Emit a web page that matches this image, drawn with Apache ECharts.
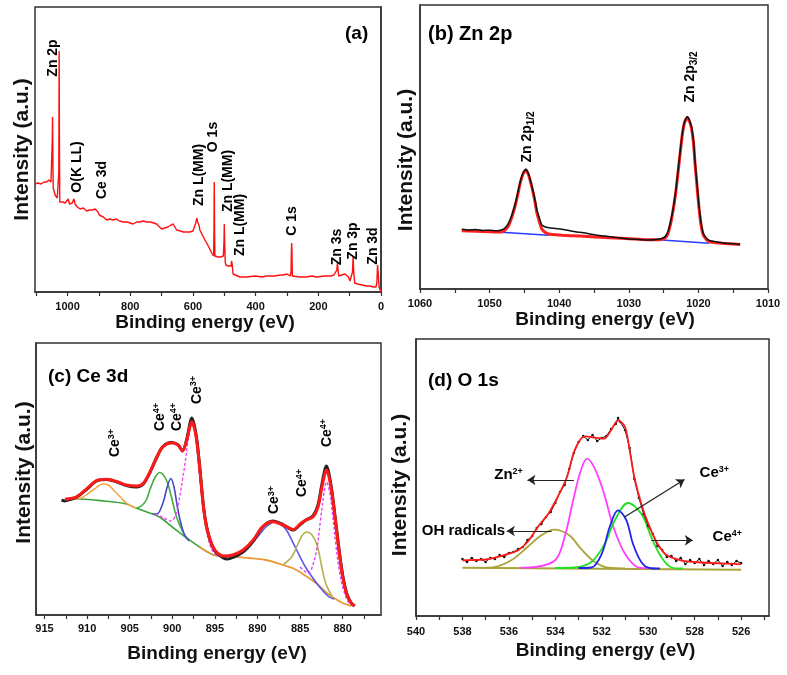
<!DOCTYPE html>
<html>
<head>
<meta charset="utf-8">
<script src="https://cdn.jsdelivr.net/npm/echarts@6/dist/echarts.min.js"></script>
<style>
html,body{margin:0;padding:0;background:#fff;}
#chart{width:787px;height:675px;}
</style>
</head>
<body>
<div id="chart"></div>
<script>
// ---------------- Panel (a): survey spectrum ----------------
const surveyData = [
[1104,108],[1095,109],[1085,108],[1075,110],[1067,110],[1060,112],[1056,113],[1053,110],[1050,108],[1049,150],[1048,175],[1047,140],[1046,104],
[1043,101],[1040,97],[1037,95],[1033,94],[1030,92],[1028,120],[1027,241],[1026,150],[1025,90],[1022,88],[1015,90],[1008,89],[1003,91],[998,93],
[994,88],[990,87],[985,89],[980,93],[976,88],[969,85],[960,83],[950,84],[939,81],[930,82],[920,82],[912,83],[907,84],[903,80],[899,77],[893,76],
[886,75],[880,73],[875,72],[865,73],[855,72],[844,73],[835,71],[822,70],[810,70],[800,69],[791,68],[780,70],[770,70],[760,71],[748,70],[735,70],
[725,69],[716,68],[710,66],[700,63],[690,64],[680,65],[670,67],[663,68],[657,66],[652,62],[640,61],[630,60],[620,60],[610,60],[600,61],[594,62],
[590,70],[588,74],[585,70],[583,69],[580,66],[578,62],[570,57],[562,52],[556,49],[548,44],[540,39],[536,37],[534,36],[533,60],[532,110],[531,60],
[530,36],[528,35],[520,35],[512,35],[508,35],[503,36],[501,50],[500,68],[499,50],[497,30],[495,27],[488,26],[482,25],[478,26],[477,31],[476,33],
[475,28],[472,18],[466,16],[450,15],[430,15],[400,16],[380,15],[365,16],[340,16],[320,17],[312,17],[300,18],[296,19],[290,16],[287,20],[286,40],
[285,49],[284,40],[283,16],[280,15],[260,15],[240,15],[220,16],[205,15],[180,16],[160,16],[150,17],[144,17],[141,22],[139,29],[137,22],[135,16],
[125,17],[115,18],[109,18],[104,15],[99,11],[95,10],[91,20],[89,35],[87,20],[84,9],[75,8],[60,7],[46,6],[35,6],[25,5],[16,5],[13,10],[11,27],
[10,29],[8,15],[6,5],[3,3],[0,0]
];
const surveyTicks = [0,100,200,300,400,500,600,700,800,900,1000,1100];
const surveyTickLabels = [0,200,400,600,800,1000];
const surveyPeakLabels = [
[1047,234,'Zn 2p'],[970,125,'O(K LL)'],[890.5,112,'Ce 3d'],[581,117,'Zn L(MM)'],[536,155,'O 1s'],
[488,111,'Zn L(MM)'],[450,67,'Zn L(MM)'],[284,71,'C 1s'],[140,45,'Zn 3s'],[89,51,'Zn 3p'],[25.5,46,'Zn 3d']
];

// ---------------- Panel (b): Zn 2p ----------------
const zn2pRaw = [
[1054.0,59.7],[1053,59],[1052,59.5],[1051,58.5],[1050,58.8],[1049,58.3],[1048.3,59],[1047.8,61],[1047.3,65.7],[1046.8,74],[1046.3,85.7],
[1045.9,98],[1045.6,107.3],[1045.2,116],[1044.8,119.7],[1044.4,115],[1043.9,102.3],[1043.5,90],[1043.2,79],[1042.8,70],[1042.5,64],[1042,62],
[1041.5,61.3],[1040.5,60.5],[1039.6,59.7],[1038.6,58.5],[1037.7,57.3],[1036.5,56.2],[1034.8,54],[1033.4,53],[1032.0,51.7],[1031,50.8],[1030,50],
[1028.5,49.5],[1027.2,49],[1026,49.5],[1025.2,50.7],[1024.7,53],[1024.3,59],[1023.8,74],[1023.3,95.7],[1022.9,120],[1022.6,139],[1022.3,156],
[1022.0,167.3],[1021.6,172.3],[1021.3,169],[1021.0,162.3],[1020.7,148],[1020.5,129],[1020.2,105],[1019.9,82.3],[1019.6,66],[1019.3,55.7],
[1018.8,50.5],[1018.3,48.3],[1017.5,47.3],[1016.6,46.3],[1015.5,45.5],[1014.5,45],[1014.0,44.7]
];
const zn2pFit = [
[1054,58.3],[1052,57.8],[1050,57.3],[1048.3,57],[1047.8,59],[1047.3,63],[1046.8,72],[1046.3,84],[1045.9,96],[1045.6,106],[1045.2,115],[1044.8,119],
[1044.4,114],[1043.9,101],[1043.5,88],[1043.2,76],[1042.8,66],[1042.5,60],[1042,56.5],[1041.5,55],[1040.5,54.2],[1039.6,53.7],[1037,53],[1034.8,52],
[1032,51],[1030,50.3],[1027.2,49.3],[1025.6,49.3],[1025.2,49.7],[1024.7,51.5],[1024.3,57],[1023.8,72],[1023.3,94],[1022.9,118],[1022.6,137],
[1022.3,155],[1022,166],[1021.6,171.5],[1021.3,168],[1021,161],[1020.7,146],[1020.5,127],[1020.2,103],[1019.9,80],[1019.6,63],[1019.3,54],
[1018.8,49],[1018.3,47],[1017.5,46.3],[1016.6,45.7],[1015,45],[1014,44.5]
];
const zn2pBaseHigh = [[1048.3,56.7],[1041.5,53.7]];
const zn2pBaseLow = [[1025.2,49],[1018.5,45.7]];
const zn2pTicks = [1010,1015,1020,1025,1030,1035,1040,1045,1050,1055,1060];
const zn2pTickLabels = [1010,1020,1030,1040,1050,1060];
const zn2pPeakLabels = [[1044.66,152,'Zn 2p{sub|1/2}'],[1021.17,212,'Zn 2p{sub|3/2}']];

// ---------------- Panel (c): Ce 3d ----------------
const ce3dRaw = [
[913,115],[912.6,114],[912,115.5],[911.2,118],[910,126],[908.9,134],[907.7,135.5],[906.5,133],[905.4,129.5],[904.2,128],[903.4,131],[902.6,143],
[901.8,158],[901.1,168.5],[900.1,172.5],[899.3,170],[898.8,164],[898.3,176],[897.7,197],[897.2,180],[896.8,150],[896.3,106],[895.8,82],[895.0,64],
[894.0,57],[893.5,56],[892.9,57.5],[891.7,63],[890.5,74],[889.4,88],[888.2,94],[887,90.5],[885.8,85],[884.9,91],[884.3,95],[883.5,99],[882.9,110],
[882.5,128],[882.1,145],[881.9,149],[881.6,141],[881.2,120],[880.8,92],[880.4,64],[880.0,40],[879.5,21],[879,12],[878.6,9]
];
const ce3dFit = [
[912.6,115.7],[912,116.5],[911.2,118.3],[910,126.7],[908.9,134.3],[907.7,135.7],[906.5,133.3],[905.4,130],[904.2,129],[903.4,131.7],[902.6,143.3],
[901.8,158.3],[901.1,168.3],[900.1,172.3],[899.3,170],[898.8,164],[898.3,175],[897.7,193.3],[897.2,178.3],[896.8,148.3],[896.3,105],[895.8,81.7],
[895.0,65],[894.0,59],[892.9,60],[891.7,65],[890.5,75],[889.4,88.3],[888.2,93.3],[887.0,90],[885.8,85.5],[884.9,91.7],[884.3,95],[883.5,98],
[882.9,108],[882.5,125],[882.1,141],[881.9,145],[881.6,138],[881.2,118],[880.8,90],[880.4,62],[880.0,38],[879.5,20],[879,12],[878.6,9]
];
const ce3dBaseLeft = [[912.5,116],[910.8,116],[908,114],[905.4,111],[904.2,106.7],[903,103],[901.5,98],[900,88],[898.3,77],[896.8,68],[895.1,60],[893,58.5]];
const ce3dBaseRight = [[896.8,68],[895.1,60],[893,58.5],[891,57],[889,55],[887,50],[885.8,46.7],[884.5,40],[883.1,31.7],[882,23],[881.2,18],[880,12],[879,9]];
const ce3dPeak908 = [[911.5,116],[910.8,116.7],[909.3,125],[908.1,131],[907.5,130],[906.9,125],[906.1,118],[905.35,111.7],[904.2,106.7]];
const ce3dPeak901 = [[904.2,106.7],[903.5,110],[903.0,116],[902.6,126],[902.0,138],[901.45,142.5],[900.7,135],[900.1,118],[899.5,98],[898.7,82],[898.2,76]];
const ce3dPeak900 = [[902.3,101],[901.8,101],[901.1,112],[900.6,128],[900.17,136.5],[899.8,128],[899.4,108],[899.0,92],[898.5,79],[898.0,74]];
const ce3dPeak898 = [[902,101],[901,97],[900.2,94],[899.6,100],[899.2,115],[898.8,135],[898.5,152],[898.2,172],[897.9,187],[897.7,191],[897.4,184],
[897.1,165],[896.8,140],[896.4,108],[896.0,85],[895.5,68],[895.0,61],[894.5,59]];
const ce3dPeak888 = [[893.5,59],[892,62],[891,68],[890,78],[889,88],[888.0,93],[887.2,90],[886.6,85],[885.4,65],[884.3,47],[882.7,28],[881.6,18],[881,16]];
const ce3dPeak884 = [[887,50],[886,58],[885.4,68],[884.8,79],[884.2,83],[883.6,80],[883,70],[882.5,50],[882,32],[881.2,18]];
const ce3dPeak882 = [[885,48],[884.5,44],[884,42],[883.5,50],[883,68],[882.6,95],[882.2,122],[881.9,133],[881.5,122],[881.2,102],[880.8,70],
[880.4,45],[880,28],[879.4,14],[878.8,9]];
const ce3dTicks = [877.5,880,882.5,885,887.5,890,892.5,895,897.5,900,902.5,905,907.5,910,912.5,915];
const ce3dTickLabels = [880,885,890,895,900,905,910,915];
const ce3dPeakLabels = [
[906.7,172,'Ce{sup|3+}'],[901.45,198,'Ce{sup|4+}'],[899.46,198,'Ce{sup|4+}'],[897.1,225,'Ce{sup|3+}'],
[888.0,115,'Ce{sup|3+}'],[884.7,132,'Ce{sup|4+}'],[881.8,182,'Ce{sup|4+}']
];

// ---------------- Panel (d): O 1s ----------------
const o1sRaw = [
[538.0,57],[537.8,54],[537.6,58],[537.4,55],[537.2,57],[537.0,54],[536.8,58],[536.6,57],[536.4,61],[536.2,59],[536.0,63],[535.8,64],[535.6,67],
[535.4,69],[535.2,76],[535.0,80],[534.8,88],[534.6,92],[534.4,99],[534.2,104],[534.0,113],[533.8,124],[533.6,131],[533.4,147],[533.2,163],
[533.0,174],[532.8,180],[532.6,176],[532.4,181],[532.2,175],[532.0,178],[531.8,180],[531.6,187],[531.4,192],[531.3,198],[531.2,194],[531.0,186],
[530.8,168],[530.6,137],[530.4,118],[530.2,102],[530.0,90],[529.8,82],[529.6,70],[529.4,66],[529.2,59],[529.0,60],[528.8,55],[528.6,58],
[528.4,52],[528.2,56],[528.0,53],[527.8,57],[527.6,51],[527.4,55],[527.2,52],[527.0,56],[526.8,50],[526.6,54],[526.4,51],[526.2,55],[526.0,53]
];
const o1sFit = [
[538,55.7],[537.5,56],[537,56.5],[536.6,58.3],[536,62.3],[535.6,65.7],[535.2,74],[534.7,90.7],[534.3,102.3],[533.9,119],[533.5,139],[533.2,164],
[532.9,177.3],[532.7,179.7],[532.3,178.3],[531.9,177.3],[531.6,185.7],[531.3,195.7],[531.0,189],[530.8,165.7],[530.6,139],[530.3,112.3],
[530.0,92.3],[529.6,72.3],[529.2,60.7],[528.6,55.7],[528,54],[527.3,53],[526.5,52.3],[526,51.7]
];
const o1sBaseline = [[538,48.3],[532,47.3],[526,46.3]];
const o1sOH = [[537,48.3],[536.7,48.6],[535.9,55.7],[535.2,69],[534.6,80.7],[534.05,86.3],[533.4,80.7],[532.9,67.3],[532.3,54],[531.7,48.3],[531,47.6]];
const o1sZn = [[535.5,48.3],[534.85,49],[534.0,56],[533.6,79],[533.2,119],[532.9,145.7],[532.63,157.3],[532.3,147.3],[531.9,122.3],[531.5,89],[531.0,62.3],[530.4,48.3],[530,47.8]];
const o1sCe3 = [[533,48],[532.45,48.5],[532.0,62.3],[531.66,89],[531.3,105.7],[530.94,95.7],[530.66,72.3],[530.3,54],[529.94,48],[529.5,47.5]];
const o1sCe4 = [[534,48],[533.16,48.5],[532.45,54],[531.87,72.3],[531.44,95.7],[530.87,113],[530.3,102.3],[529.87,79],[529.44,59],[529.0,48.5],[528.5,47.5]];
const o1sArrows = [[533.2,136,535.2,136],[534.16,85,536.09,85],[531.02,99,528.44,136.4],[529.87,75.7,528.08,75.7]];
const o1sLabels = [[535.4,141,'Zn{sup|2+}','right'],[536.16,85,'OH radicals','right'],[527.79,143,'Ce{sup|3+}','left'],[527.23,79,'Ce{sup|4+}','left']];
const o1sTicks = [525,526,527,528,529,530,531,532,533,534,535,536,537,538,539,540];
const o1sTickLabels = [526,528,530,532,534,536,538,540];

// ---------------- build chart ----------------
const FONT = 'Arial, "Liberation Sans", Helvetica, sans-serif';
const INK = '#000';

const grids = [
  {left:35, top:7, width:346, height:285},
  {left:420, top:5, width:348, height:284},
  {left:36, top:343, width:345, height:272},
  {left:416, top:339, width:353, height:277}
].map(g => Object.assign({show:true, borderColor:'#333', borderWidth:1.5, backgroundColor:'rgba(0,0,0,0)', containLabel:false}, g));

function xAxis(gi, min, max, ticks, labels, nameGap, namePad, labelMargin) {
  return {
    type:'value', gridIndex:gi, min:min, max:max, inverse:true,
    axisLine:{show:true, lineStyle:{color:'#333', width:1.5}},
    splitLine:{show:false},
    axisTick:{show:true, inside:false, length:4, customValues:ticks, lineStyle:{color:'#333', width:1.2}},
    axisLabel:{show:true, customValues:labels, margin:labelMargin, fontSize:11, fontWeight:'bold', color:'#111', fontFamily:FONT,
      formatter: v => String(v)},
    name:'Binding energy (eV)', nameLocation:'middle', nameGap:nameGap,
    nameTextStyle:{fontSize:19, fontWeight:'bold', color:'#111', fontFamily:FONT, padding:namePad}
  };
}
function yAxis(gi, max, nameGap, namePad) {
  return {
    type:'value', gridIndex:gi, min:0, max:max,
    axisLine:{show:true, lineStyle:{color:'#333', width:1.5}},
    axisTick:{show:false}, axisLabel:{show:false}, splitLine:{show:false},
    name:'Intensity (a.u.)', nameLocation:'middle', nameGap:nameGap,
    nameTextStyle:{fontSize:21, fontWeight:'bold', color:'#111', fontFamily:FONT, padding:namePad}
  };
}
function line(gi, data, color, width, extra) {
  return Object.assign({
    type:'line', xAxisIndex:gi, yAxisIndex:gi, data:data, showSymbol:false, symbol:'none',
    lineStyle:{color:color, width:width}, itemStyle:{color:color}, silent:true, animation:false, z:2
  }, extra || {});
}
const RICH = {
  sup:{fontSize:9, fontWeight:'bold', verticalAlign:'top', lineHeight:16, color:INK, fontFamily:FONT},
  sub:{fontSize:10, fontWeight:'bold', verticalAlign:'bottom', lineHeight:18, color:INK, fontFamily:FONT}
};
function labels(gi, items, rotate, fontSize) {
  return {
    type:'scatter', xAxisIndex:gi, yAxisIndex:gi, symbolSize:0, silent:true, z:10, animation:false,
    itemStyle:{color:INK, opacity:1},
    data: items.map(it => ({value:[it[0], it[1]], label: it[3] ? {align: it[3]} : {}})),
    label:{show:true, position:'inside', rotate:rotate, color:INK, opacity:1, textBorderWidth:0, fontSize:fontSize, fontWeight:'bold',
      fontFamily:FONT, lineHeight:16, rich:RICH, formatter: p => items[p.dataIndex][2]}
  };
}

const option = {
  backgroundColor:'#fff',
  animation:false,
  title:[
    {text:'(a)', left:345, top:24, padding:0, textStyle:{fontSize:19, fontWeight:'bold', color:INK, fontFamily:FONT}},
    {text:'(b) Zn 2p', left:428, top:24, padding:0, textStyle:{fontSize:20, fontWeight:'bold', color:INK, fontFamily:FONT}},
    {text:'(c) Ce 3d', left:48, top:367, padding:0, textStyle:{fontSize:19, fontWeight:'bold', color:INK, fontFamily:FONT}},
    {text:'(d) O 1s', left:428, top:371, padding:0, textStyle:{fontSize:19, fontWeight:'bold', color:INK, fontFamily:FONT}}
  ],
  grid: grids,
  xAxis:[
    xAxis(0, 0, 1104, surveyTicks, surveyTickLabels, 17, [0,6,0,0], 9),
    xAxis(1, 1010, 1060, zn2pTicks, zn2pTickLabels, 18, [0,0,0,22], 9),
    xAxis(2, 875.5, 916, ce3dTicks, ce3dTickLabels, 29, [0,0,0,17], 8),
    xAxis(3, 524.8, 540, o1sTicks, o1sTickLabels, 25, [0,0,0,26], 10)
  ],
  yAxis:[
    yAxis(0, 285, 2, [0,0,0,0]),
    yAxis(1, 284, 3, [0,26,0,0]),
    yAxis(2, 272, 1, [0,0,0,13]),
    yAxis(3, 277, 5, [0,15,0,0])
  ],
  series:[
    // (a)
    line(0, surveyData, '#ff1010', 1.4),
    labels(0, surveyPeakLabels, 90, 14),
    // (b)
    line(1, zn2pBaseHigh, '#2a3cff', 1.6),
    line(1, zn2pBaseLow, '#2a3cff', 1.6),
    line(1, zn2pFit, '#ff2020', 3, {smooth:0.2}),
    line(1, zn2pRaw, '#111', 1.5, {smooth:0.2, z:3}),
    labels(1, zn2pPeakLabels, 90, 14),
    // (c)
    line(2, ce3dBaseLeft, '#3aa53a', 1.6, {smooth:0.3}),
    line(2, ce3dBaseRight, '#e89a3a', 1.8, {smooth:0.3}),
    line(2, ce3dPeak908, '#f2a84a', 1.6, {smooth:0.35}),
    line(2, ce3dPeak901, '#3fae3f', 1.6, {smooth:0.35}),
    line(2, ce3dPeak900, '#4848c8', 1.6, {smooth:0.35}),
    line(2, ce3dPeak898, '#ff3cff', 1.4, {smooth:0.35, lineStyle:{color:'#ff3cff', width:1.4, type:[3,2]}}),
    line(2, ce3dPeak888, '#5a5ae8', 1.6, {smooth:0.3}),
    line(2, ce3dPeak884, '#b4b04e', 1.6, {smooth:0.35}),
    line(2, ce3dPeak882, '#e040ff', 1.4, {smooth:0.35, lineStyle:{color:'#e040ff', width:1.4, type:[3,2]}}),
    line(2, ce3dRaw, '#222', 3, {smooth:0.3, z:3}),
    line(2, ce3dFit, '#ff1a1a', 3, {smooth:0.3, z:4}),
    labels(2, ce3dPeakLabels, 90, 14),
    // (d)
    line(3, o1sBaseline, '#a8a438', 2, {markLine:{
      silent:true, animation:false, symbol:['none','arrow'], symbolSize:8,
      lineStyle:{color:'#222', width:1.2, type:'solid'}, label:{show:false},
      data: o1sArrows.map(a => [{coord:[a[0],a[1]]},{coord:[a[2],a[3]]}])
    }}),
    line(3, o1sOH, '#a8a438', 1.8, {smooth:0.35}),
    line(3, o1sZn, '#ff40ff', 1.8, {smooth:0.35}),
    line(3, o1sCe4, '#22e022', 1.8, {smooth:0.35}),
    line(3, o1sCe3, '#2222ee', 1.8, {smooth:0.35}),
    line(3, o1sRaw, '#111', 1, {showSymbol:true, symbol:'circle', symbolSize:2.5, z:3}),
    line(3, o1sFit, '#ff1a1a', 1.8, {smooth:0.3, z:4}),
    labels(3, o1sLabels, 0, 15)
  ]
};
const chart = echarts.init(document.getElementById('chart'), null, {renderer:'canvas'});
chart.setOption(option);
</script>
</body>
</html>
